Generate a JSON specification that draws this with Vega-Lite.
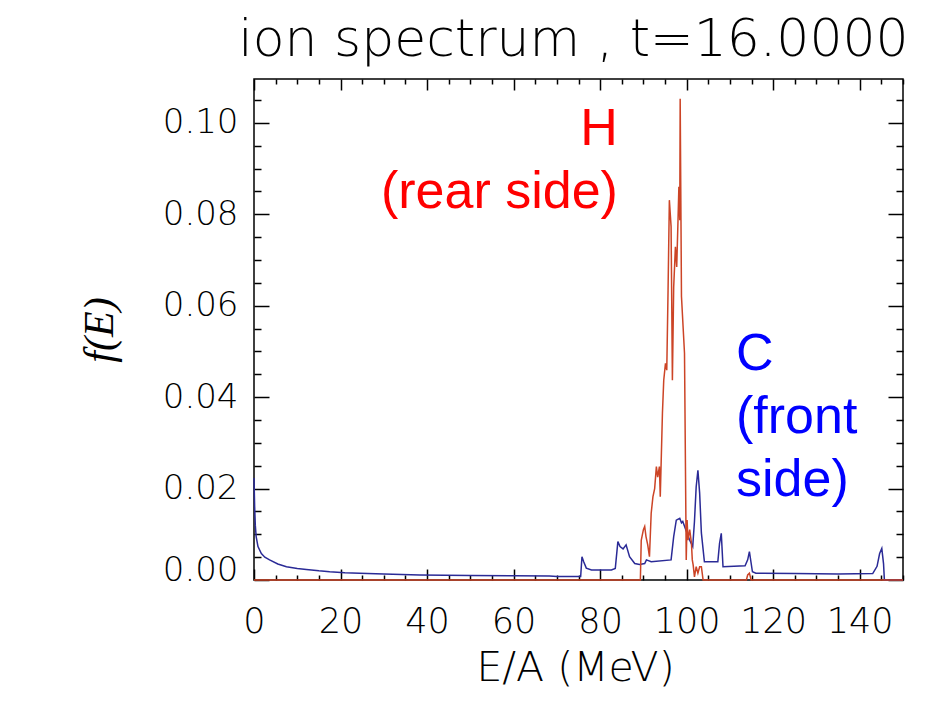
{
  "$schema": "https://vega.github.io/schema/vega-lite/v6.json",
  "autosize": "none",
  "width": 649,
  "height": 501,
  "padding": {"left": 254, "top": 79, "right": 27, "bottom": 141},
  "background": "white",
  "config": {
    "view": {"stroke": "black", "strokeWidth": 1.5},
    "axis": {"domain": false, "grid": false, "tickColor": "black", "tickWidth": 1.5, "labelColor": "black", "titleColor": "black"}
  },
  "title": {
    "text": "ion spectrum , t=16.0000",
    "font": "DejaVu Sans",
    "fontWeight": 200,
    "fontSize": 52,
    "color": "black",
    "anchor": "middle",
    "baseline": "alphabetic",
    "offset": -30,
    "dx": -5
  },
  "datasets": {
    "C": [
      {"i": 0, "E": 0, "f": 0.0223},
      {"i": 1, "E": 0.15, "f": 0.016},
      {"i": 2, "E": 0.3, "f": 0.012},
      {"i": 3, "E": 0.5, "f": 0.0095},
      {"i": 4, "E": 0.92, "f": 0.0073},
      {"i": 5, "E": 1.7, "f": 0.0058},
      {"i": 6, "E": 2.5, "f": 0.005},
      {"i": 7, "E": 3.6, "f": 0.0044},
      {"i": 8, "E": 5.5, "f": 0.0035},
      {"i": 9, "E": 7.5, "f": 0.0029},
      {"i": 10, "E": 10, "f": 0.0025},
      {"i": 11, "E": 12.1, "f": 0.0023},
      {"i": 12, "E": 15, "f": 0.002},
      {"i": 13, "E": 17.5, "f": 0.0018},
      {"i": 14, "E": 21, "f": 0.0016},
      {"i": 15, "E": 24.4, "f": 0.0015},
      {"i": 16, "E": 30, "f": 0.0013},
      {"i": 17, "E": 38.3, "f": 0.0011},
      {"i": 18, "E": 50, "f": 0.001},
      {"i": 19, "E": 60, "f": 0.00095},
      {"i": 20, "E": 68.3, "f": 0.0009},
      {"i": 21, "E": 70, "f": 0.00075},
      {"i": 22, "E": 75.5, "f": 0.00075},
      {"i": 23, "E": 75.8, "f": 0.0051},
      {"i": 24, "E": 76.2, "f": 0.004},
      {"i": 25, "E": 76.8, "f": 0.0026},
      {"i": 26, "E": 78, "f": 0.0022},
      {"i": 27, "E": 82.6, "f": 0.0022},
      {"i": 28, "E": 83.5, "f": 0.0025},
      {"i": 29, "E": 84.1, "f": 0.0084},
      {"i": 30, "E": 84.6, "f": 0.0073},
      {"i": 31, "E": 85.3, "f": 0.0068},
      {"i": 32, "E": 86.0, "f": 0.0077},
      {"i": 33, "E": 86.8, "f": 0.0051},
      {"i": 34, "E": 88.0, "f": 0.0036},
      {"i": 35, "E": 89.1, "f": 0.0034},
      {"i": 36, "E": 90.3, "f": 0.0036},
      {"i": 37, "E": 90.7, "f": 0.0044},
      {"i": 38, "E": 91.8, "f": 0.004},
      {"i": 39, "E": 96.4, "f": 0.0044},
      {"i": 40, "E": 97.0, "f": 0.0095},
      {"i": 41, "E": 97.6, "f": 0.0131},
      {"i": 42, "E": 98.4, "f": 0.0135},
      {"i": 43, "E": 98.8, "f": 0.0125},
      {"i": 44, "E": 99.1, "f": 0.0128},
      {"i": 45, "E": 99.8, "f": 0.011},
      {"i": 46, "E": 100.7, "f": 0.0087},
      {"i": 47, "E": 101.4, "f": 0.0073},
      {"i": 48, "E": 101.8, "f": 0.0128},
      {"i": 49, "E": 102.2, "f": 0.0204},
      {"i": 50, "E": 102.6, "f": 0.024},
      {"i": 51, "E": 103.0, "f": 0.019},
      {"i": 52, "E": 103.4, "f": 0.0103},
      {"i": 53, "E": 104.1, "f": 0.004},
      {"i": 54, "E": 107.2, "f": 0.004},
      {"i": 55, "E": 107.6, "f": 0.008},
      {"i": 56, "E": 108.0, "f": 0.0102},
      {"i": 57, "E": 108.4, "f": 0.0029},
      {"i": 58, "E": 113.5, "f": 0.0031},
      {"i": 59, "E": 114.1, "f": 0.0044},
      {"i": 60, "E": 114.5, "f": 0.0062},
      {"i": 61, "E": 115.2, "f": 0.0018},
      {"i": 62, "E": 116, "f": 0.0015},
      {"i": 63, "E": 125, "f": 0.0014},
      {"i": 64, "E": 135, "f": 0.0013},
      {"i": 65, "E": 143, "f": 0.0014},
      {"i": 66, "E": 144.0, "f": 0.003},
      {"i": 67, "E": 144.6, "f": 0.0058},
      {"i": 68, "E": 145.1, "f": 0.0069},
      {"i": 69, "E": 145.5, "f": 0.0036},
      {"i": 70, "E": 145.7, "f": 0},
      {"i": 71, "E": 150, "f": 0}
    ],
    "H": [
      {"i": 0, "E": 0, "f": 0},
      {"i": 1, "E": 89.3, "f": 0},
      {"i": 2, "E": 89.5, "f": 0.0087},
      {"i": 3, "E": 90.0, "f": 0.011},
      {"i": 4, "E": 90.3, "f": 0.0117},
      {"i": 5, "E": 90.6, "f": 0.0095},
      {"i": 6, "E": 91.0, "f": 0.0077},
      {"i": 7, "E": 91.4, "f": 0.0051},
      {"i": 8, "E": 91.8, "f": 0.0146},
      {"i": 9, "E": 92.2, "f": 0.0182},
      {"i": 10, "E": 92.6, "f": 0.02},
      {"i": 11, "E": 93.0, "f": 0.0248},
      {"i": 12, "E": 93.3, "f": 0.0225},
      {"i": 13, "E": 93.7, "f": 0.0248},
      {"i": 14, "E": 93.9, "f": 0.0182},
      {"i": 15, "E": 94.4, "f": 0.0365},
      {"i": 16, "E": 94.7, "f": 0.0437},
      {"i": 17, "E": 95.1, "f": 0.0474},
      {"i": 18, "E": 95.4, "f": 0.0459},
      {"i": 19, "E": 95.7, "f": 0.0634},
      {"i": 20, "E": 96.0, "f": 0.0831},
      {"i": 21, "E": 96.4, "f": 0.0773},
      {"i": 22, "E": 96.7, "f": 0.0437},
      {"i": 23, "E": 97.0, "f": 0.0641},
      {"i": 24, "E": 97.4, "f": 0.0729},
      {"i": 25, "E": 97.7, "f": 0.0685},
      {"i": 26, "E": 98.0, "f": 0.0787},
      {"i": 27, "E": 98.2, "f": 0.086},
      {"i": 28, "E": 98.4, "f": 0.0787},
      {"i": 29, "E": 98.5, "f": 0.1053},
      {"i": 30, "E": 98.8, "f": 0.062},
      {"i": 31, "E": 99.5, "f": 0.0496},
      {"i": 32, "E": 99.9, "f": 0.0044},
      {"i": 33, "E": 100.1, "f": 0.0131},
      {"i": 34, "E": 100.3, "f": 0.0087},
      {"i": 35, "E": 100.7, "f": 0.011},
      {"i": 36, "E": 101.1, "f": 0.0081},
      {"i": 37, "E": 101.3, "f": 0.0044},
      {"i": 38, "E": 101.5, "f": 0.0033},
      {"i": 39, "E": 101.8, "f": 0.0007},
      {"i": 40, "E": 102.2, "f": 0.0029},
      {"i": 41, "E": 102.6, "f": 0.0015},
      {"i": 42, "E": 103.0, "f": 0.0029},
      {"i": 43, "E": 103.4, "f": 0.0029},
      {"i": 44, "E": 103.8, "f": 0},
      {"i": 45, "E": 113.8, "f": 0},
      {"i": 46, "E": 114.1, "f": 0.0011},
      {"i": 47, "E": 114.5, "f": 0.0015},
      {"i": 48, "E": 114.9, "f": 0},
      {"i": 49, "E": 150, "f": 0}
    ],
    "labels": [
      {"E": 84.1, "f": 0.0951, "label": "H\n(rear side)", "color": "#ff0000", "side": "right"},
      {"E": 111.4, "f": 0.0459, "label": "C\n(front\nside)", "color": "#0000ff", "side": "left"}
    ]
  },
  "layer": [
    {
      "data": {"name": "C"},
      "mark": {"type": "line", "color": "#2a2a96", "strokeWidth": 1.5},
      "encoding": {
        "x": {
          "field": "E", "type": "quantitative",
          "scale": {"domain": [0, 150], "nice": false, "zero": false},
          "axis": {
            "orient": "bottom",
            "values": [0,5,10,15,20,25,30,35,40,45,50,55,60,65,70,75,80,85,90,95,100,105,110,115,120,125,130,135,140,145,150],
            "labelExpr": "datum.value % 20 === 0 && datum.value <= 140 ? format(datum.value, 'd') : ''",
            "tickSize": {"condition": {"test": "datum.value % 20 === 0", "value": -11}, "value": -5},
            "labelFont": "DejaVu Sans",
            "labelFontWeight": 200,
            "labelFontSize": 35,
            "labelPadding": 35,
            "labelBaseline": "top",
            "labelFlush": false,
            "labelOverlap": false,
            "title": "E/A  (MeV)",
            "titleFont": "DejaVu Sans",
            "titleFontWeight": 200,
            "titleFontSize": 41,
            "titlePadding": 3,
            "titleX": 321
          }
        },
        "y": {
          "field": "f", "type": "quantitative",
          "scale": {"domain": [0, 0.1096], "nice": false},
          "axis": {
            "orient": "left",
            "values": [0,0.005,0.01,0.015,0.02,0.025,0.03,0.035,0.04,0.045,0.05,0.055,0.06,0.065,0.07,0.075,0.08,0.085,0.09,0.095,0.1,0.105],
            "labelExpr": "round(datum.value*200) % 4 === 0 ? format(datum.value, '.2f') : ''",
            "tickSize": {"condition": {"test": "round(datum.value*200) % 4 === 0", "value": -15}, "value": -7},
            "labelFont": "DejaVu Sans",
            "labelFontWeight": 200,
            "labelFontSize": 34,
            "labelPadding": 31,
            "labelBaseline": {"condition": {"test": "datum.value === 0", "value": "alphabetic"}, "value": "middle"},
            "labelFlush": false,
            "labelOverlap": false,
            "title": "f(E)",
            "titleFont": "Liberation Serif",
            "titleFontStyle": "italic",
            "titleFontWeight": "normal",
            "titleFontSize": 42,
            "titlePadding": 41
          }
        },
        "order": {"field": "i", "type": "quantitative"}
      }
    },
    {
      "data": {"name": "H"},
      "mark": {"type": "line", "color": "#cc4426", "strokeWidth": 1.5},
      "encoding": {
        "x": {
          "field": "E", "type": "quantitative",
          "axis": {
            "orient": "top",
            "values": [0,5,10,15,20,25,30,35,40,45,50,55,60,65,70,75,80,85,90,95,100,105,110,115,120,125,130,135,140,145,150],
            "labels": false,
            "title": null,
            "tickSize": {"condition": {"test": "datum.value % 20 === 0", "value": -11}, "value": -5}
          }
        },
        "y": {
          "field": "f", "type": "quantitative",
          "axis": {
            "orient": "right",
            "values": [0,0.005,0.01,0.015,0.02,0.025,0.03,0.035,0.04,0.045,0.05,0.055,0.06,0.065,0.07,0.075,0.08,0.085,0.09,0.095,0.1,0.105],
            "labels": false,
            "title": null,
            "tickSize": {"condition": {"test": "round(datum.value*200) % 4 === 0", "value": -15}, "value": -7}
          }
        },
        "order": {"field": "i", "type": "quantitative"}
      }
    },
    {
      "data": {"name": "labels"},
      "transform": [{"filter": "datum.side === 'right'"}],
      "mark": {"type": "text", "align": "right", "font": "Liberation Sans", "fontSize": 52, "baseline": "alphabetic", "lineBreak": "\n", "lineHeight": 63},
      "encoding": {
        "x": {"field": "E", "type": "quantitative", "axis": null},
        "y": {"field": "f", "type": "quantitative", "axis": null},
        "text": {"field": "label"},
        "color": {"field": "color", "type": "nominal", "scale": null}
      }
    },
    {
      "data": {"name": "labels"},
      "transform": [{"filter": "datum.side === 'left'"}],
      "mark": {"type": "text", "align": "left", "font": "Liberation Sans", "fontSize": 52, "baseline": "alphabetic", "lineBreak": "\n", "lineHeight": 63},
      "encoding": {
        "x": {"field": "E", "type": "quantitative", "axis": null},
        "y": {"field": "f", "type": "quantitative", "axis": null},
        "text": {"field": "label"},
        "color": {"field": "color", "type": "nominal", "scale": null}
      }
    }
  ],
  "resolve": {"axis": {"x": "independent", "y": "independent"}}
}
